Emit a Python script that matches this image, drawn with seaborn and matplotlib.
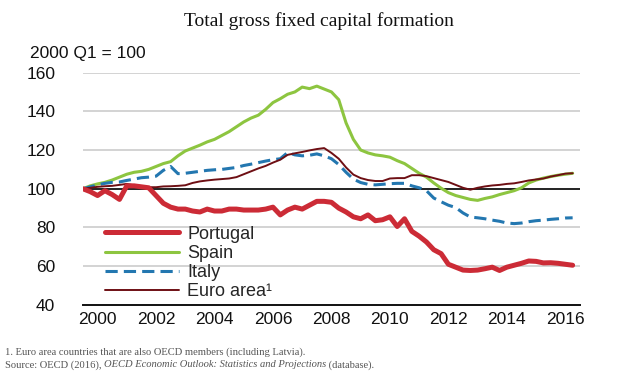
import numpy as np
import pandas as pd
import matplotlib
matplotlib.use("Agg")
import matplotlib.pyplot as plt
import seaborn as sns

# Quarterly index, 2000 Q1 = 100
quarters = np.arange(68) / 4 + 2000

portugal = [100, 98.5, 96.5, 99, 97, 94.5, 101.5, 101.5,
            101, 100.5, 96.5, 92.5, 90.5, 89.5, 89.5, 88.5,
            88, 89.5, 88.5, 88.5, 89.5, 89.5, 89, 89,
            89, 89.5, 90.5, 86.5, 89, 90.5, 89.5, 91.5,
            93.5, 93.5, 93, 90, 88, 85.5, 84.5, 86.5,
            83.5, 84, 85.5, 80.5, 84.5, 78, 75.5, 72.5,
            68.5, 66.5, 61, 59.5, 58, 57.8, 58, 58.7,
            59.5, 57.8, 59.5, 60.5, 61.5, 62.7, 62.5, 61.7,
            61.8, 61.5, 61, 60.5]

spain = [100, 101.5, 102.5, 103.3, 104.5, 106, 107.5, 108.5,
         109, 110, 111.5, 113, 114, 117, 119.5, 121,
         122.5, 124.2, 125.5, 127.5, 129.5, 132, 134.5, 136.5,
         138, 141, 144.5, 146.5, 148.8, 150, 152.5, 151.7,
         153, 151.5, 150, 146, 134, 125.5, 120, 118.5,
         117.5, 117, 116.3, 114.5, 113, 110.5, 108, 106,
         103, 100.3, 98, 96.5, 95.5, 94.5, 94, 95,
         95.8, 97, 98, 99, 100.5, 103, 104.5, 105.5,
         106.3, 107, 107.5, 108]

italy = [100, 101, 102, 102.8, 103.3, 103.5, 104.3, 105,
         105.7, 106, 106.5, 109.5, 111.5, 107.8, 108, 108.5,
         109, 109.5, 109.8, 110, 110.5, 111, 112, 112.7,
         113.5, 114.3, 115, 115.5, 118.7, 117.5, 117, 117.3,
         118, 117, 115.5, 112.5, 108.5, 105, 103.2, 102.3,
         102, 102.3, 102.6, 102.8, 102.8, 101.5, 100.5, 99,
         95.2, 93.3, 91.5, 90.3, 87.5, 85.4, 85, 84.5,
         83.8, 83.2, 82.3, 82, 82.3, 83, 83.5, 83.8,
         84.2, 84.5, 84.9, 85]

euro_area = [100, 100.5, 101, 101.3, 101.5, 102, 102.5, 101.8,
             101, 100.8, 100.8, 101.2, 101.3, 101.5, 101.8, 103,
             103.8, 104.3, 104.7, 105, 105.3, 106, 107.5, 109,
             110.5, 111.8, 113.5, 115, 117.5, 118.3, 119, 119.8,
             120.5, 121, 118.5, 115.5, 111, 107.3, 105.5, 104.5,
             104, 104, 105.3, 105.5, 105.5, 107, 107, 106.5,
             105.5, 104.5, 103.5, 102, 100.5, 99.5, 100.5, 101.2,
             101.7, 102, 102.5, 102.8, 103.5, 104.3, 104.8, 105.3,
             106.3, 107, 107.8, 108]

year_labels = [str(y) for y in range(2000, 2017, 2)]

df = pd.DataFrame({"quarter": quarters, "Portugal": portugal, "Spain": spain,
                   "Italy": italy, "Euro area¹": euro_area})

sns.set_theme(style="white")
plt.rcParams["font.family"] = ["Liberation Sans", "DejaVu Sans"]
serif = ["Liberation Serif", "DejaVu Serif"]

fig = plt.figure(figsize=(6.38, 3.86), dpi=100)
ax = fig.add_axes([0.130, 0.210, 0.779, 0.602])

# gridlines and the 100 reference line
for v in [60, 80, 120, 140, 160]:
    ax.axhline(v, color="#c8c8c8", lw=1.1, zorder=0)
ax.axhline(100, color="#222222", lw=1.4, zorder=1)

styles = {
    "Spain": dict(color="#8dc540", lw=2.2),
    "Italy": dict(color="#2377b0", lw=2.2, dashes=(4, 2)),
    "Euro area¹": dict(color="#6e0f14", lw=1.4),
    "Portugal": dict(color="#cc2b36", lw=3.6),
}
lines = {}
for name in ["Spain", "Italy", "Euro area¹", "Portugal"]:
    st = dict(styles[name])
    dashes = st.pop("dashes", None)
    sns.lineplot(data=df, x="quarter", y=name, ax=ax, label=name, zorder=3, **st)
    ln = ax.get_lines()[-1]
    if dashes:
        ln.set_dashes(dashes)
    lines[name] = ln

ax.set_xlim(2000, 2017)
ax.set_ylim(40, 160)
ax.set_xlabel("")
ax.set_ylabel("")

ax.set_yticks([40, 60, 80, 100, 120, 140, 160])
ax.tick_params(axis="y", length=0, pad=20, labelsize=12.5, labelcolor="#111111")

ax.set_xticks(np.arange(2000, 2018))
ax.set_xticklabels([])
ax.set_xticks(np.arange(2000, 2017, 2) + 0.5, minor=True)
ax.set_xticklabels(year_labels, minor=True)
ax.tick_params(axis="x", which="major", direction="in", length=4, width=1.3,
               color="#111111")
ax.tick_params(axis="x", which="minor", length=0, pad=5, labelsize=12.5,
               labelcolor="#111111")

for s in ["top", "right", "left"]:
    ax.spines[s].set_visible(False)
ax.spines["bottom"].set_color("#111111")
ax.spines["bottom"].set_linewidth(1.4)

order = ["Portugal", "Spain", "Italy", "Euro area¹"]
ax.legend([lines[n] for n in order], order, loc="lower left",
          bbox_to_anchor=(0.045, 0.02), frameon=False, fontsize=13,
          handlelength=4.1, handletextpad=0.45, labelspacing=0.12,
          borderaxespad=0, borderpad=0)

fig.text(0.5, 0.945, "Total gross fixed capital formation", ha="center",
         va="center", fontsize=14, family=serif, color="#111111")
fig.text(0.047, 0.862, "2000 Q1 = 100", ha="left", va="center", fontsize=12.5,
         color="#111111")

note_kw = dict(ha="left", va="center", fontsize=7.6, family=serif, color="#555555")
fig.text(0.008, 0.088,
         "1. Euro area countries that are also OECD members (including Latvia).",
         **note_kw)

# source line: plain, italic title, plain
renderer = fig.canvas.get_renderer()
x = 0.008
for piece, style in [("Source: OECD (2016), ", "normal"),
                     ("OECD Economic Outlook: Statistics and Projections", "italic"),
                     (" (database).", "normal")]:
    t = fig.text(x, 0.055, piece, fontstyle=style, **note_kw)
    bb = t.get_window_extent(renderer=renderer)
    x += bb.width / fig.bbox.width

fig.savefig("out.png", dpi=100)
